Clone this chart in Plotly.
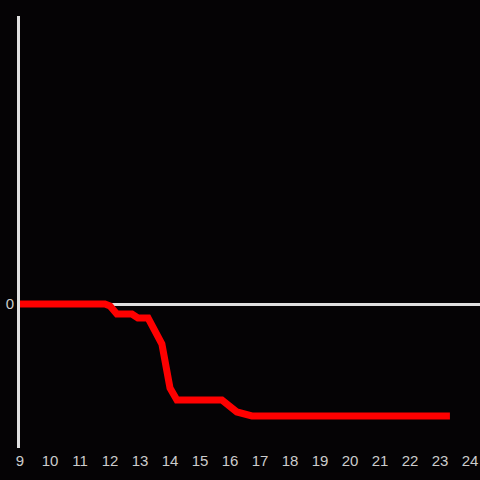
import plotly.graph_objects as go

hours = [9.0, 11.83, 12.0, 12.23, 12.73, 12.93, 13.27, 13.73, 14.0, 14.23, 15.73, 16.23, 16.73, 23.33]
values = [0, 0, -2, -10, -10, -14, -14, -40, -84, -96, -96, -108, -112, -112]
x_ticks = list(range(9, 25))

fig = go.Figure()
fig.add_trace(go.Scatter(x=hours, y=values, mode="lines",
                         line=dict(color="#ff0000", width=7), hoverinfo="skip"))
fig.update_layout(
    width=480, height=480,
    paper_bgcolor="#050305", plot_bgcolor="#050305",
    margin=dict(l=20, r=0, t=16, b=32),
    showlegend=False,
    font=dict(family="Liberation Sans, Arial, sans-serif", size=15, color="#cccccc"),
)
fig.update_xaxes(range=[9, 24.333], tickvals=x_ticks, ticktext=[str(t) for t in x_ticks],
                 showgrid=False, zeroline=False, showline=False, ticks="",
                 tickfont=dict(size=15), ticklabelstandoff=2)
fig.update_yaxes(range=[-144, 288], tickvals=[0], ticktext=["0"], showgrid=False,
                 zeroline=True, zerolinecolor="#e0e0e0", zerolinewidth=3,
                 showline=True, linecolor="#e0e0e0", linewidth=3, ticks="",
                 tickfont=dict(size=15))
fig.write_html("out.html",
               config={"displayModeBar": False},
               post_script="document.body.style.margin='0';document.body.style.background='#050305';")
